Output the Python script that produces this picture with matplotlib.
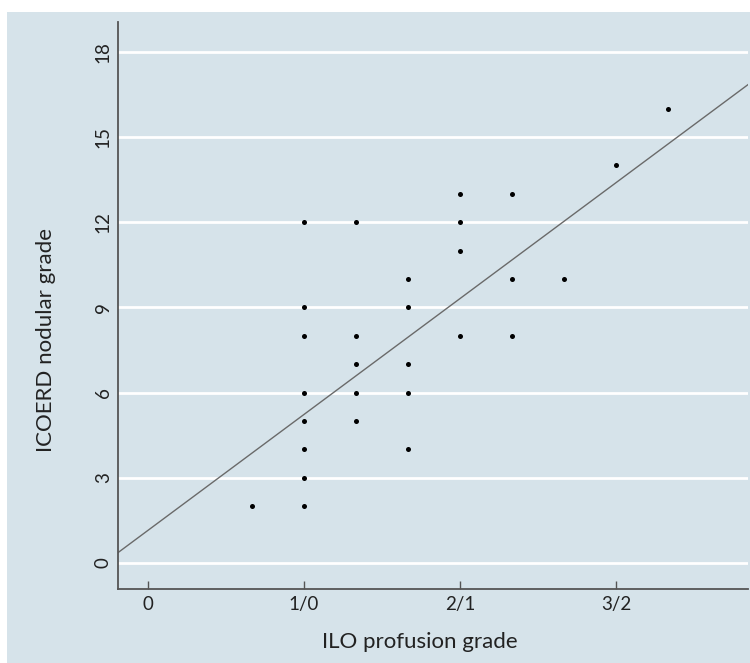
import matplotlib
matplotlib.use('Agg')

import numpy as np
import matplotlib.pyplot as plt
from matplotlib.patches import Rectangle

# ILO profusion on the 12-point scale (0 -> 0, 1/0 -> 3, 2/1 -> 6, 3/2 -> 9)
ilo_grade = [2,
             3, 3, 3, 3, 3, 3, 3, 3,
             4, 4, 4, 4, 4,
             5, 5, 5, 5, 5,
             6, 6, 6, 6,
             7, 7, 7,
             8, 9, 10]
icoerd_grade = [2,
                2, 3, 4, 5, 6, 8, 9, 12,
                5, 6, 7, 8, 12,
                4, 6, 7, 9, 10,
                8, 11, 12, 13,
                8, 10, 13,
                10, 14, 16]

x_ticks = [0, 3, 6, 9]
x_tick_labels = ['0', '1/0', '2/1', '3/2']
y_ticks = [0, 3, 6, 9, 12, 15, 18]

# fitted line
fit_intercept = 1.15
fit_slope = 1.36

BG = '#d6e3ea'

plt.rcParams['font.family'] = ['Lato', 'DejaVu Sans']

fig = plt.figure(figsize=(7.5, 6.63), dpi=100)
fig.patch.set_facecolor('white')
fig.patches.append(Rectangle((7 / 750, 0), 1, 1 - 12 / 663, transform=fig.transFigure,
                             facecolor=BG, edgecolor='none', zorder=-10))

ax = fig.add_axes([118 / 750, 74 / 663, 630 / 750, 567 / 663])
ax.set_facecolor(BG)

xlim = (-0.58, 11.54)
ax.set_xlim(*xlim)
ax.set_ylim(-0.92, 19.05)

for y in y_ticks:
    ax.axhline(y, color='white', linewidth=2, zorder=1)

xs = np.array(xlim)
ax.plot(xs, fit_intercept + fit_slope * xs, color='#6a6a6a', linewidth=1, zorder=2)
ax.scatter(ilo_grade, icoerd_grade, s=13, color='black', zorder=3, linewidths=0)

ax.set_xticks(x_ticks)
ax.set_xticklabels(x_tick_labels)
ax.set_yticks(y_ticks)
ax.set_yticklabels([str(y) for y in y_ticks], rotation=90, va='center')

ax.tick_params(axis='x', direction='in', length=6, width=1, color='#555555',
               labelsize=13.5, pad=5, labelcolor='#222222')
ax.tick_params(axis='y', length=0, labelsize=13.5, pad=4.5, labelcolor='#222222')

for side in ['top', 'right']:
    ax.spines[side].set_visible(False)
for side in ['left', 'bottom']:
    ax.spines[side].set_color('#555555')
    ax.spines[side].set_linewidth(1.3)

ax.set_xlabel('ILO profusion grade', fontsize=16, color='#222222')
ax.xaxis.set_label_coords(0.479, -0.075)
ax.set_ylabel('ICOERD nodular grade', fontsize=16, color='#222222')
ax.yaxis.set_label_coords(-0.098, 0.44)

fig.savefig('out.png', dpi=100, facecolor=fig.get_facecolor())
